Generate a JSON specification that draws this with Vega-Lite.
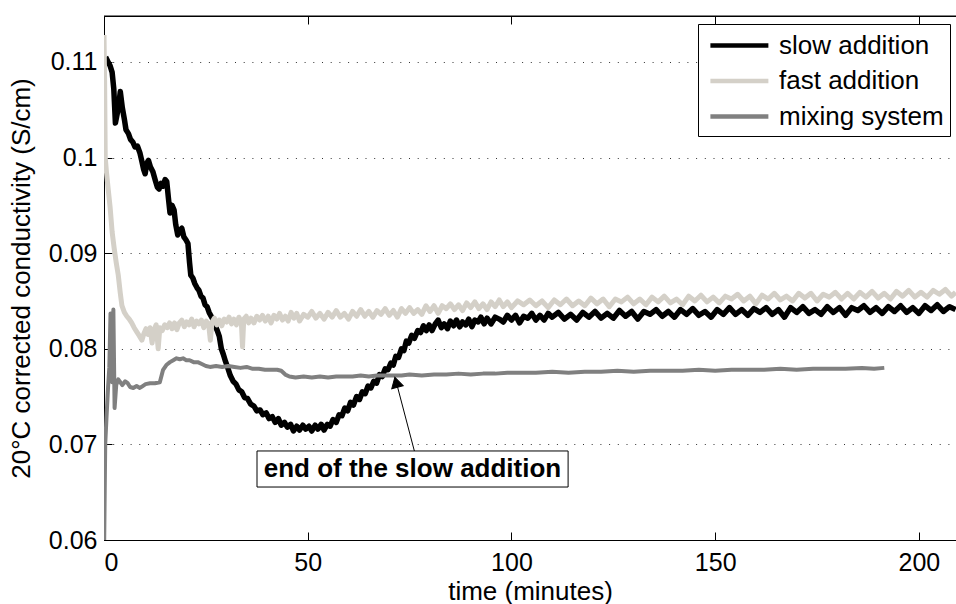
{
  "$schema": "https://vega.github.io/schema/vega-lite/v6.json",
  "autosize": {"type": "none"},
  "padding": {"left": 104, "top": 16, "right": 0, "bottom": 64},
  "width": 852,
  "height": 524,
  "background": "white",
  "config": {
    "font": "Liberation Sans",
    "view": {"stroke": null},
    "axis": {"domainColor": "#000", "tickColor": "#000", "labelColor": "#000", "titleColor": "#000", "labelFont": "Liberation Sans", "titleFont": "Liberation Sans", "titleFontWeight": "normal", "labelFontSize": 25, "titleFontSize": 26, "domainWidth": 1, "tickWidth": 1}
  },
  "data": {"values": [
    {"s":"slow addition","t":0.4,"c":0.1105},{"s":"slow addition","t":1,"c":0.11},{"s":"slow addition","t":1.5,"c":0.1096},{"s":"slow addition","t":2,"c":0.1089},{"s":"slow addition","t":2.4,"c":0.1072},{"s":"slow addition","t":2.8,"c":0.1036},{"s":"slow addition","t":3.3,"c":0.1047},{"s":"slow addition","t":3.7,"c":0.1058},{"s":"slow addition","t":4,"c":0.1069},{"s":"slow addition","t":4.5,"c":0.1052},{"s":"slow addition","t":5,"c":0.104},{"s":"slow addition","t":5.4,"c":0.1029},{"s":"slow addition","t":6,"c":0.1025},{"s":"slow addition","t":6.5,"c":0.1019},{"s":"slow addition","t":7.1,"c":0.1016},{"s":"slow addition","t":7.6,"c":0.1011},{"s":"slow addition","t":8.2,"c":0.1012},{"s":"slow addition","t":8.8,"c":0.1005},{"s":"slow addition","t":9.3,"c":0.0996},{"s":"slow addition","t":9.7,"c":0.0988},{"s":"slow addition","t":10.1,"c":0.0983},{"s":"slow addition","t":10.5,"c":0.0994},{"s":"slow addition","t":10.9,"c":0.0997},{"s":"slow addition","t":11.4,"c":0.099},{"s":"slow addition","t":12,"c":0.0985},{"s":"slow addition","t":12.6,"c":0.0976},{"s":"slow addition","t":13.1,"c":0.0969},{"s":"slow addition","t":13.5,"c":0.0967},{"s":"slow addition","t":14,"c":0.0973},{"s":"slow addition","t":14.5,"c":0.097},{"s":"slow addition","t":15,"c":0.0977},{"s":"slow addition","t":15.4,"c":0.0975},{"s":"slow addition","t":15.8,"c":0.0958},{"s":"slow addition","t":16.2,"c":0.0942},{"s":"slow addition","t":16.7,"c":0.095},{"s":"slow addition","t":17.2,"c":0.0945},{"s":"slow addition","t":17.6,"c":0.093},{"s":"slow addition","t":18.1,"c":0.0919},{"s":"slow addition","t":18.6,"c":0.0924},{"s":"slow addition","t":19.1,"c":0.0926},{"s":"slow addition","t":19.6,"c":0.0917},{"s":"slow addition","t":20.1,"c":0.0914},{"s":"slow addition","t":20.6,"c":0.091},{"s":"slow addition","t":21,"c":0.089},{"s":"slow addition","t":21.3,"c":0.0877},{"s":"slow addition","t":21.8,"c":0.0874},{"s":"slow addition","t":22.3,"c":0.0868},{"s":"slow addition","t":22.8,"c":0.0864},{"s":"slow addition","t":23.3,"c":0.0861},{"s":"slow addition","t":23.8,"c":0.0855},{"s":"slow addition","t":24.3,"c":0.0853},{"s":"slow addition","t":24.8,"c":0.0846},{"s":"slow addition","t":25.3,"c":0.0844},{"s":"slow addition","t":25.8,"c":0.0838},{"s":"slow addition","t":26.3,"c":0.0834},{"s":"slow addition","t":26.8,"c":0.083},{"s":"slow addition","t":27.3,"c":0.0824},{"s":"slow addition","t":27.8,"c":0.0819},{"s":"slow addition","t":28.3,"c":0.0813},{"s":"slow addition","t":28.8,"c":0.08},{"s":"slow addition","t":29.3,"c":0.0794},{"s":"slow addition","t":29.8,"c":0.0787},{"s":"slow addition","t":30.3,"c":0.0781},{"s":"slow addition","t":31,"c":0.0772},{"s":"slow addition","t":31.7,"c":0.0766},{"s":"slow addition","t":32.4,"c":0.0763},{"s":"slow addition","t":33.1,"c":0.0757},{"s":"slow addition","t":33.8,"c":0.0755},{"s":"slow addition","t":34.5,"c":0.0749},{"s":"slow addition","t":35.2,"c":0.0748},{"s":"slow addition","t":36,"c":0.0742},{"s":"slow addition","t":36.8,"c":0.074},{"s":"slow addition","t":37.5,"c":0.0735},{"s":"slow addition","t":38.3,"c":0.0736},{"s":"slow addition","t":39,"c":0.0731},{"s":"slow addition","t":39.8,"c":0.0733},{"s":"slow addition","t":40.5,"c":0.0727},{"s":"slow addition","t":41.3,"c":0.0729},{"s":"slow addition","t":42,"c":0.0723},{"s":"slow addition","t":42.8,"c":0.0727},{"s":"slow addition","t":43.5,"c":0.072},{"s":"slow addition","t":44.3,"c":0.0723},{"s":"slow addition","t":45,"c":0.0718},{"s":"slow addition","t":45.8,"c":0.0721},{"s":"slow addition","t":46.5,"c":0.0714},{"s":"slow addition","t":47.3,"c":0.0719},{"s":"slow addition","t":48,"c":0.0715},{"s":"slow addition","t":48.8,"c":0.072},{"s":"slow addition","t":49.5,"c":0.0716},{"s":"slow addition","t":50.3,"c":0.0719},{"s":"slow addition","t":51,"c":0.0714},{"s":"slow addition","t":51.8,"c":0.072},{"s":"slow addition","t":52.5,"c":0.0716},{"s":"slow addition","t":53.3,"c":0.0721},{"s":"slow addition","t":54,"c":0.0715},{"s":"slow addition","t":54.8,"c":0.0721},{"s":"slow addition","t":55.5,"c":0.0719},{"s":"slow addition","t":56.2,"c":0.0726},{"s":"slow addition","t":57,"c":0.0723},{"s":"slow addition","t":57.7,"c":0.0731},{"s":"slow addition","t":58.4,"c":0.073},{"s":"slow addition","t":59.1,"c":0.0738},{"s":"slow addition","t":59.8,"c":0.0735},{"s":"slow addition","t":60.5,"c":0.0744},{"s":"slow addition","t":61.2,"c":0.0741},{"s":"slow addition","t":62,"c":0.075},{"s":"slow addition","t":62.7,"c":0.0747},{"s":"slow addition","t":63.4,"c":0.0755},{"s":"slow addition","t":64.1,"c":0.0753},{"s":"slow addition","t":64.8,"c":0.0761},{"s":"slow addition","t":65.5,"c":0.0759},{"s":"slow addition","t":66.2,"c":0.0766},{"s":"slow addition","t":66.9,"c":0.0764},{"s":"slow addition","t":67.6,"c":0.0773},{"s":"slow addition","t":68.3,"c":0.0771},{"s":"slow addition","t":69,"c":0.0779},{"s":"slow addition","t":69.7,"c":0.0778},{"s":"slow addition","t":70.4,"c":0.0785},{"s":"slow addition","t":71,"c":0.0783},{"s":"slow addition","t":71.6,"c":0.0792},{"s":"slow addition","t":72.3,"c":0.0791},{"s":"slow addition","t":73,"c":0.08},{"s":"slow addition","t":73.6,"c":0.0798},{"s":"slow addition","t":74.2,"c":0.0808},{"s":"slow addition","t":74.8,"c":0.0806},{"s":"slow addition","t":75.5,"c":0.0814},{"s":"slow addition","t":76.2,"c":0.0811},{"s":"slow addition","t":77,"c":0.0819},{"s":"slow addition","t":77.7,"c":0.0817},{"s":"slow addition","t":78.4,"c":0.0824},{"s":"slow addition","t":79.1,"c":0.0819},{"s":"slow addition","t":79.8,"c":0.0825},{"s":"slow addition","t":80.5,"c":0.0819},{"s":"slow addition","t":81.3,"c":0.0826},{"s":"slow addition","t":82,"c":0.083},{"s":"slow addition","t":82.8,"c":0.0822},{"s":"slow addition","t":83.5,"c":0.0826},{"s":"slow addition","t":84.3,"c":0.0821},{"s":"slow addition","t":85,"c":0.0829},{"s":"slow addition","t":85.8,"c":0.0824},{"s":"slow addition","t":86.5,"c":0.083},{"s":"slow addition","t":87.3,"c":0.0823},{"s":"slow addition","t":88,"c":0.0828},{"s":"slow addition","t":88.8,"c":0.0825},{"s":"slow addition","t":89.5,"c":0.0831},{"s":"slow addition","t":90.3,"c":0.0823},{"s":"slow addition","t":91,"c":0.083},{"s":"slow addition","t":91.8,"c":0.0828},{"s":"slow addition","t":92.5,"c":0.0833},{"s":"slow addition","t":93.3,"c":0.0826},{"s":"slow addition","t":94,"c":0.0832},{"s":"slow addition","t":95,"c":0.0826},{"s":"slow addition","t":96,"c":0.0833},{"s":"slow addition","t":97,"c":0.0831},{"s":"slow addition","t":98,"c":0.0828},{"s":"slow addition","t":99,"c":0.0835},{"s":"slow addition","t":100,"c":0.083},{"s":"slow addition","t":101,"c":0.0835},{"s":"slow addition","t":102,"c":0.0827},{"s":"slow addition","t":103,"c":0.0834},{"s":"slow addition","t":104,"c":0.0832},{"s":"slow addition","t":105,"c":0.0837},{"s":"slow addition","t":106,"c":0.083},{"s":"slow addition","t":107,"c":0.0835},{"s":"slow addition","t":108,"c":0.083},{"s":"slow addition","t":109,"c":0.0837},{"s":"slow addition","t":110,"c":0.0833},{"s":"slow addition","t":111.5,"c":0.0838},{"s":"slow addition","t":113,"c":0.0831},{"s":"slow addition","t":114.5,"c":0.0836},{"s":"slow addition","t":116,"c":0.083},{"s":"slow addition","t":117.5,"c":0.0838},{"s":"slow addition","t":119,"c":0.0833},{"s":"slow addition","t":120.5,"c":0.0839},{"s":"slow addition","t":122,"c":0.0832},{"s":"slow addition","t":123.5,"c":0.0837},{"s":"slow addition","t":125,"c":0.0832},{"s":"slow addition","t":126.5,"c":0.084},{"s":"slow addition","t":128,"c":0.0834},{"s":"slow addition","t":129.5,"c":0.0839},{"s":"slow addition","t":131,"c":0.0831},{"s":"slow addition","t":132.5,"c":0.0839},{"s":"slow addition","t":134,"c":0.0836},{"s":"slow addition","t":135.5,"c":0.0841},{"s":"slow addition","t":137,"c":0.0834},{"s":"slow addition","t":138.5,"c":0.0839},{"s":"slow addition","t":140,"c":0.0833},{"s":"slow addition","t":141.5,"c":0.0841},{"s":"slow addition","t":143,"c":0.0836},{"s":"slow addition","t":144.5,"c":0.0842},{"s":"slow addition","t":146,"c":0.0835},{"s":"slow addition","t":147.5,"c":0.0839},{"s":"slow addition","t":149,"c":0.0833},{"s":"slow addition","t":150.5,"c":0.0841},{"s":"slow addition","t":152,"c":0.0836},{"s":"slow addition","t":153.5,"c":0.0843},{"s":"slow addition","t":155,"c":0.0836},{"s":"slow addition","t":156.5,"c":0.0841},{"s":"slow addition","t":158,"c":0.0835},{"s":"slow addition","t":159.5,"c":0.0842},{"s":"slow addition","t":161,"c":0.0838},{"s":"slow addition","t":162.5,"c":0.0843},{"s":"slow addition","t":164,"c":0.0836},{"s":"slow addition","t":165.5,"c":0.0841},{"s":"slow addition","t":167,"c":0.0833},{"s":"slow addition","t":168.5,"c":0.0843},{"s":"slow addition","t":170,"c":0.0838},{"s":"slow addition","t":171.5,"c":0.0844},{"s":"slow addition","t":173,"c":0.0837},{"s":"slow addition","t":174.5,"c":0.0841},{"s":"slow addition","t":176,"c":0.0836},{"s":"slow addition","t":177.5,"c":0.0844},{"s":"slow addition","t":179,"c":0.0838},{"s":"slow addition","t":180.5,"c":0.0843},{"s":"slow addition","t":182,"c":0.0835},{"s":"slow addition","t":183.5,"c":0.0843},{"s":"slow addition","t":185,"c":0.084},{"s":"slow addition","t":186.5,"c":0.0845},{"s":"slow addition","t":188,"c":0.0838},{"s":"slow addition","t":189.5,"c":0.0843},{"s":"slow addition","t":191,"c":0.0837},{"s":"slow addition","t":192.5,"c":0.0844},{"s":"slow addition","t":194,"c":0.0839},{"s":"slow addition","t":195.5,"c":0.0845},{"s":"slow addition","t":197,"c":0.0838},{"s":"slow addition","t":198.5,"c":0.0843},{"s":"slow addition","t":200,"c":0.0837},{"s":"slow addition","t":201.5,"c":0.0845},{"s":"slow addition","t":203,"c":0.084},{"s":"slow addition","t":204.5,"c":0.0846},{"s":"slow addition","t":206,"c":0.0839},{"s":"slow addition","t":207.5,"c":0.0844},{"s":"slow addition","t":209,"c":0.0841},
    {"s":"fast addition","t":0,"c":0.1128},{"s":"fast addition","t":0.15,"c":0.108},{"s":"fast addition","t":0.3,"c":0.1},{"s":"fast addition","t":0.6,"c":0.0985},{"s":"fast addition","t":1,"c":0.0968},{"s":"fast addition","t":1.5,"c":0.0948},{"s":"fast addition","t":2,"c":0.0922},{"s":"fast addition","t":2.5,"c":0.0905},{"s":"fast addition","t":3,"c":0.089},{"s":"fast addition","t":3.5,"c":0.0877},{"s":"fast addition","t":4,"c":0.0858},{"s":"fast addition","t":4.4,"c":0.0845},{"s":"fast addition","t":5,"c":0.0838},{"s":"fast addition","t":5.6,"c":0.0834},{"s":"fast addition","t":6.2,"c":0.0831},{"s":"fast addition","t":6.8,"c":0.0827},{"s":"fast addition","t":7.4,"c":0.0822},{"s":"fast addition","t":8,"c":0.0818},{"s":"fast addition","t":8.6,"c":0.0814},{"s":"fast addition","t":9.3,"c":0.0809},{"s":"fast addition","t":9.8,"c":0.0816},{"s":"fast addition","t":10.3,"c":0.0821},{"s":"fast addition","t":10.8,"c":0.0815},{"s":"fast addition","t":11.3,"c":0.0822},{"s":"fast addition","t":11.8,"c":0.0806},{"s":"fast addition","t":12.3,"c":0.082},{"s":"fast addition","t":12.8,"c":0.0825},{"s":"fast addition","t":13.3,"c":0.08},{"s":"fast addition","t":13.7,"c":0.0822},{"s":"fast addition","t":14.3,"c":0.0819},{"s":"fast addition","t":14.9,"c":0.0825},{"s":"fast addition","t":15.5,"c":0.0822},{"s":"fast addition","t":16.1,"c":0.0827},{"s":"fast addition","t":16.7,"c":0.0821},{"s":"fast addition","t":17.3,"c":0.0827},{"s":"fast addition","t":17.9,"c":0.082},{"s":"fast addition","t":18.5,"c":0.0827},{"s":"fast addition","t":19.1,"c":0.083},{"s":"fast addition","t":19.7,"c":0.0823},{"s":"fast addition","t":20.3,"c":0.0828},{"s":"fast addition","t":20.9,"c":0.0825},{"s":"fast addition","t":21.5,"c":0.0831},{"s":"fast addition","t":22.1,"c":0.0823},{"s":"fast addition","t":22.7,"c":0.0829},{"s":"fast addition","t":23.3,"c":0.0826},{"s":"fast addition","t":23.9,"c":0.083},{"s":"fast addition","t":24.5,"c":0.0822},{"s":"fast addition","t":25.1,"c":0.0829},{"s":"fast addition","t":25.7,"c":0.0825},{"s":"fast addition","t":26.1,"c":0.0809},{"s":"fast addition","t":26.5,"c":0.0828},{"s":"fast addition","t":27.1,"c":0.0832},{"s":"fast addition","t":27.7,"c":0.0825},{"s":"fast addition","t":28.3,"c":0.083},{"s":"fast addition","t":28.9,"c":0.0824},{"s":"fast addition","t":29.5,"c":0.0831},{"s":"fast addition","t":30.1,"c":0.0828},{"s":"fast addition","t":30.7,"c":0.0833},{"s":"fast addition","t":31.3,"c":0.0826},{"s":"fast addition","t":31.9,"c":0.0831},{"s":"fast addition","t":32.5,"c":0.0825},{"s":"fast addition","t":33.1,"c":0.0833},{"s":"fast addition","t":33.7,"c":0.0828},{"s":"fast addition","t":34,"c":0.0802},{"s":"fast addition","t":34.3,"c":0.0831},{"s":"fast addition","t":34.9,"c":0.0834},{"s":"fast addition","t":35.5,"c":0.0827},{"s":"fast addition","t":36.1,"c":0.0832},{"s":"fast addition","t":36.8,"c":0.0827},{"s":"fast addition","t":37.5,"c":0.0834},{"s":"fast addition","t":38.2,"c":0.083},{"s":"fast addition","t":38.9,"c":0.0835},{"s":"fast addition","t":39.6,"c":0.0829},{"s":"fast addition","t":40.3,"c":0.0834},{"s":"fast addition","t":41,"c":0.0827},{"s":"fast addition","t":41.7,"c":0.0835},{"s":"fast addition","t":42.4,"c":0.0831},{"s":"fast addition","t":43.1,"c":0.0837},{"s":"fast addition","t":43.8,"c":0.083},{"s":"fast addition","t":44.5,"c":0.0834},{"s":"fast addition","t":45.2,"c":0.0829},{"s":"fast addition","t":45.9,"c":0.0838},{"s":"fast addition","t":46.6,"c":0.0832},{"s":"fast addition","t":47.3,"c":0.0837},{"s":"fast addition","t":48,"c":0.0829},{"s":"fast addition","t":49,"c":0.0836},{"s":"fast addition","t":50,"c":0.0833},{"s":"fast addition","t":51,"c":0.0839},{"s":"fast addition","t":52,"c":0.0832},{"s":"fast addition","t":53,"c":0.0837},{"s":"fast addition","t":54,"c":0.0831},{"s":"fast addition","t":55,"c":0.0838},{"s":"fast addition","t":56,"c":0.0833},{"s":"fast addition","t":57,"c":0.084},{"s":"fast addition","t":58,"c":0.0833},{"s":"fast addition","t":59,"c":0.0837},{"s":"fast addition","t":60,"c":0.0831},{"s":"fast addition","t":61,"c":0.0839},{"s":"fast addition","t":62,"c":0.0834},{"s":"fast addition","t":63,"c":0.0841},{"s":"fast addition","t":64,"c":0.0834},{"s":"fast addition","t":65,"c":0.0839},{"s":"fast addition","t":66,"c":0.0833},{"s":"fast addition","t":67,"c":0.084},{"s":"fast addition","t":68,"c":0.0836},{"s":"fast addition","t":69,"c":0.0842},{"s":"fast addition","t":70,"c":0.0835},{"s":"fast addition","t":71,"c":0.084},{"s":"fast addition","t":72,"c":0.0833},{"s":"fast addition","t":73,"c":0.0842},{"s":"fast addition","t":74,"c":0.0837},{"s":"fast addition","t":75,"c":0.0843},{"s":"fast addition","t":76,"c":0.0837},{"s":"fast addition","t":77,"c":0.0841},{"s":"fast addition","t":78,"c":0.0836},{"s":"fast addition","t":79,"c":0.0845},{"s":"fast addition","t":80,"c":0.0839},{"s":"fast addition","t":81,"c":0.0845},{"s":"fast addition","t":82,"c":0.0837},{"s":"fast addition","t":83,"c":0.0845},{"s":"fast addition","t":84,"c":0.0842},{"s":"fast addition","t":85,"c":0.0847},{"s":"fast addition","t":86,"c":0.0841},{"s":"fast addition","t":87,"c":0.0846},{"s":"fast addition","t":88,"c":0.084},{"s":"fast addition","t":89,"c":0.0848},{"s":"fast addition","t":90,"c":0.0843},{"s":"fast addition","t":91,"c":0.0849},{"s":"fast addition","t":92,"c":0.0842},{"s":"fast addition","t":93,"c":0.0847},{"s":"fast addition","t":94,"c":0.0841},{"s":"fast addition","t":95,"c":0.0849},{"s":"fast addition","t":96,"c":0.0844},{"s":"fast addition","t":97,"c":0.0851},{"s":"fast addition","t":98,"c":0.0844},{"s":"fast addition","t":99,"c":0.0849},{"s":"fast addition","t":100,"c":0.0843},{"s":"fast addition","t":101.5,"c":0.085},{"s":"fast addition","t":103,"c":0.0846},{"s":"fast addition","t":104.5,"c":0.0851},{"s":"fast addition","t":106,"c":0.0845},{"s":"fast addition","t":107.5,"c":0.085},{"s":"fast addition","t":109,"c":0.0843},{"s":"fast addition","t":110.5,"c":0.0851},{"s":"fast addition","t":112,"c":0.0846},{"s":"fast addition","t":113.5,"c":0.0852},{"s":"fast addition","t":115,"c":0.0845},{"s":"fast addition","t":116.5,"c":0.085},{"s":"fast addition","t":118,"c":0.0845},{"s":"fast addition","t":119.5,"c":0.0853},{"s":"fast addition","t":121,"c":0.0847},{"s":"fast addition","t":122.5,"c":0.0852},{"s":"fast addition","t":124,"c":0.0844},{"s":"fast addition","t":125.5,"c":0.0852},{"s":"fast addition","t":127,"c":0.0849},{"s":"fast addition","t":128.5,"c":0.0854},{"s":"fast addition","t":130,"c":0.0847},{"s":"fast addition","t":131.5,"c":0.0852},{"s":"fast addition","t":133,"c":0.0846},{"s":"fast addition","t":134.5,"c":0.0854},{"s":"fast addition","t":136,"c":0.0849},{"s":"fast addition","t":137.5,"c":0.0855},{"s":"fast addition","t":139,"c":0.0848},{"s":"fast addition","t":140.5,"c":0.0852},{"s":"fast addition","t":142,"c":0.0846},{"s":"fast addition","t":143.5,"c":0.0855},{"s":"fast addition","t":145,"c":0.085},{"s":"fast addition","t":146.5,"c":0.0856},{"s":"fast addition","t":148,"c":0.0849},{"s":"fast addition","t":149.5,"c":0.0854},{"s":"fast addition","t":151,"c":0.0848},{"s":"fast addition","t":152.5,"c":0.0855},{"s":"fast addition","t":154,"c":0.0852},{"s":"fast addition","t":155.5,"c":0.0857},{"s":"fast addition","t":157,"c":0.085},{"s":"fast addition","t":158.5,"c":0.0855},{"s":"fast addition","t":160,"c":0.0847},{"s":"fast addition","t":161.5,"c":0.0856},{"s":"fast addition","t":163,"c":0.0852},{"s":"fast addition","t":164.5,"c":0.0858},{"s":"fast addition","t":166,"c":0.0851},{"s":"fast addition","t":167.5,"c":0.0855},{"s":"fast addition","t":169,"c":0.085},{"s":"fast addition","t":170.5,"c":0.0858},{"s":"fast addition","t":172,"c":0.0853},{"s":"fast addition","t":173.5,"c":0.0858},{"s":"fast addition","t":175,"c":0.085},{"s":"fast addition","t":176.5,"c":0.0857},{"s":"fast addition","t":178,"c":0.0854},{"s":"fast addition","t":179.5,"c":0.0859},{"s":"fast addition","t":181,"c":0.0852},{"s":"fast addition","t":182.5,"c":0.0858},{"s":"fast addition","t":184,"c":0.0852},{"s":"fast addition","t":185.5,"c":0.0859},{"s":"fast addition","t":187,"c":0.0854},{"s":"fast addition","t":188.5,"c":0.086},{"s":"fast addition","t":190,"c":0.0853},{"s":"fast addition","t":191.5,"c":0.0858},{"s":"fast addition","t":193,"c":0.0852},{"s":"fast addition","t":194.5,"c":0.086},{"s":"fast addition","t":196,"c":0.0855},{"s":"fast addition","t":197.5,"c":0.0861},{"s":"fast addition","t":199,"c":0.0854},{"s":"fast addition","t":200.5,"c":0.0859},{"s":"fast addition","t":202,"c":0.0854},{"s":"fast addition","t":203.5,"c":0.0861},{"s":"fast addition","t":205,"c":0.0857},{"s":"fast addition","t":206.5,"c":0.0862},{"s":"fast addition","t":208,"c":0.0855},{"s":"fast addition","t":209,"c":0.0859},
    {"s":"mixing system","t":0.05,"c":0.06},{"s":"mixing system","t":0.3,"c":0.07},{"s":"mixing system","t":0.6,"c":0.0727},{"s":"mixing system","t":1,"c":0.076},{"s":"mixing system","t":1.3,"c":0.078},{"s":"mixing system","t":1.6,"c":0.0837},{"s":"mixing system","t":2,"c":0.0765},{"s":"mixing system","t":2.3,"c":0.0841},{"s":"mixing system","t":2.6,"c":0.0738},{"s":"mixing system","t":3,"c":0.0762},{"s":"mixing system","t":3.5,"c":0.0768},{"s":"mixing system","t":4,"c":0.0765},{"s":"mixing system","t":4.5,"c":0.0762},{"s":"mixing system","t":5.2,"c":0.0766},{"s":"mixing system","t":5.8,"c":0.0764},{"s":"mixing system","t":6.4,"c":0.076},{"s":"mixing system","t":7.2,"c":0.0759},{"s":"mixing system","t":8,"c":0.0761},{"s":"mixing system","t":8.8,"c":0.0759},{"s":"mixing system","t":9.5,"c":0.0761},{"s":"mixing system","t":10.2,"c":0.0763},{"s":"mixing system","t":11.3,"c":0.0764},{"s":"mixing system","t":12.5,"c":0.0764},{"s":"mixing system","t":13.7,"c":0.0765},{"s":"mixing system","t":14.5,"c":0.0778},{"s":"mixing system","t":15.3,"c":0.0783},{"s":"mixing system","t":16.2,"c":0.0786},{"s":"mixing system","t":17,"c":0.0788},{"s":"mixing system","t":17.8,"c":0.079},{"s":"mixing system","t":18.6,"c":0.0789},{"s":"mixing system","t":19.4,"c":0.079},{"s":"mixing system","t":20.2,"c":0.0788},{"s":"mixing system","t":21,"c":0.0788},{"s":"mixing system","t":22,"c":0.0786},{"s":"mixing system","t":23,"c":0.0786},{"s":"mixing system","t":24,"c":0.0784},{"s":"mixing system","t":25,"c":0.0782},{"s":"mixing system","t":26,"c":0.0781},{"s":"mixing system","t":27.5,"c":0.0782},{"s":"mixing system","t":29,"c":0.0781},{"s":"mixing system","t":30.5,"c":0.0782},{"s":"mixing system","t":32,"c":0.0781},{"s":"mixing system","t":33.5,"c":0.078},{"s":"mixing system","t":35,"c":0.0781},{"s":"mixing system","t":36.5,"c":0.0779},{"s":"mixing system","t":38,"c":0.0779},{"s":"mixing system","t":39.5,"c":0.0778},{"s":"mixing system","t":41,"c":0.0778},{"s":"mixing system","t":42.5,"c":0.0778},{"s":"mixing system","t":43.5,"c":0.0777},{"s":"mixing system","t":44.5,"c":0.0773},{"s":"mixing system","t":45.5,"c":0.0771},{"s":"mixing system","t":47,"c":0.077},{"s":"mixing system","t":49,"c":0.0771},{"s":"mixing system","t":51,"c":0.077},{"s":"mixing system","t":53,"c":0.0771},{"s":"mixing system","t":55,"c":0.077},{"s":"mixing system","t":57,"c":0.0771},{"s":"mixing system","t":59,"c":0.0771},{"s":"mixing system","t":61,"c":0.0771},{"s":"mixing system","t":63,"c":0.0772},{"s":"mixing system","t":65,"c":0.0771},{"s":"mixing system","t":67,"c":0.0772},{"s":"mixing system","t":69,"c":0.0772},{"s":"mixing system","t":71,"c":0.0772},{"s":"mixing system","t":73,"c":0.0772},{"s":"mixing system","t":75,"c":0.0773},{"s":"mixing system","t":78,"c":0.0772},{"s":"mixing system","t":81,"c":0.0773},{"s":"mixing system","t":84,"c":0.0773},{"s":"mixing system","t":87,"c":0.0774},{"s":"mixing system","t":90,"c":0.0773},{"s":"mixing system","t":93,"c":0.0774},{"s":"mixing system","t":96,"c":0.0774},{"s":"mixing system","t":99,"c":0.0775},{"s":"mixing system","t":102,"c":0.0775},{"s":"mixing system","t":106,"c":0.0775},{"s":"mixing system","t":110,"c":0.0776},{"s":"mixing system","t":114,"c":0.0775},{"s":"mixing system","t":118,"c":0.0776},{"s":"mixing system","t":122,"c":0.0776},{"s":"mixing system","t":126,"c":0.0777},{"s":"mixing system","t":130,"c":0.0776},{"s":"mixing system","t":134,"c":0.0777},{"s":"mixing system","t":138,"c":0.0777},{"s":"mixing system","t":142,"c":0.0777},{"s":"mixing system","t":146,"c":0.0778},{"s":"mixing system","t":150,"c":0.0777},{"s":"mixing system","t":154,"c":0.0778},{"s":"mixing system","t":158,"c":0.0778},{"s":"mixing system","t":162,"c":0.0778},{"s":"mixing system","t":166,"c":0.0779},{"s":"mixing system","t":170,"c":0.0778},{"s":"mixing system","t":174,"c":0.0779},{"s":"mixing system","t":178,"c":0.0779},{"s":"mixing system","t":182,"c":0.0779},{"s":"mixing system","t":186,"c":0.078},{"s":"mixing system","t":189,"c":0.0779},{"s":"mixing system","t":191.5,"c":0.078}
  ]},
  "resolve": {"axis": {"x": "independent"}},
  "layer": [
    {
      "transform": [{"filter": "datum.s === 'slow addition'"}],
      "mark": {"type": "line", "strokeWidth": 5.5, "clip": true, "strokeJoin": "round"},
      "encoding": {
        "x": {"field": "t", "type": "quantitative", "scale": {"domain": [0, 209.1], "nice": false, "zero": false},
          "axis": {"orient": "bottom", "title": "time (minutes)", "values": [0, 50, 100, 150, 200], "tickSize": -8, "labelPadding": 18, "grid": false, "titlePadding": 3}},
        "y": {"field": "c", "type": "quantitative", "scale": {"domain": [0.06, 0.1148], "nice": false, "zero": false},
          "axis": {"title": "20°C corrected conductivity (S/cm)", "values": [0.06, 0.07, 0.08, 0.09, 0.1, 0.11], "format": "~g", "tickSize": -8, "labelPadding": 15, "grid": true, "gridColor": "#000", "gridDash": [1, 7.7], "gridOpacity": 0.8, "gridWidth": 1, "titlePadding": 14}},
        "color": {"field": "s", "type": "nominal", "sort": null,
          "scale": {"domain": ["slow addition", "fast addition", "mixing system"], "range": ["#000000", "#d4d0c8", "#808080"]},
          "legend": {"title": null, "orient": "none", "legendX": 594, "legendY": 8, "symbolType": "M-0.7,0L3.76,0", "symbolSize": 676, "symbolStrokeWidth": 4.5, "labelFontSize": 26, "labelFont": "Liberation Sans", "labelColor": "#000", "labelOffset": 44, "padding": 6, "strokeColor": "#000", "fillColor": "#fff", "rowPadding": 6.5, "labelLimit": 400}}
      }
    },
    {
      "transform": [{"filter": "datum.s === 'fast addition'"}],
      "mark": {"type": "line", "strokeWidth": 5, "clip": true, "strokeJoin": "round"},
      "encoding": {
        "x": {"field": "t", "type": "quantitative", "axis": {"orient": "top", "title": null, "labels": false, "domain": true, "ticks": true, "values": [0, 50, 100, 150, 200], "tickSize": -8, "grid": false}},
        "y": {"field": "c", "type": "quantitative"},
        "color": {"field": "s", "type": "nominal"}
      }
    },
    {
      "transform": [{"filter": "datum.s === 'mixing system'"}],
      "mark": {"type": "line", "strokeWidth": 4, "clip": true, "strokeJoin": "round"},
      "encoding": {
        "x": {"field": "t", "type": "quantitative", "axis": null},
        "y": {"field": "c", "type": "quantitative"},
        "color": {"field": "s", "type": "nominal"}
      }
    },
    {
      "data": {"values": [{}]},
      "mark": {"type": "rule", "stroke": "#000", "strokeWidth": 1},
      "encoding": {
        "x": {"datum": 0, "type": "quantitative", "axis": null},
        "x2": {"datum": 209.1},
        "y": {"datum": 0.1148, "type": "quantitative"}
      }
    },
    {
      "data": {"values": [{}]},
      "mark": {"type": "rule", "stroke": "#000", "strokeWidth": 1},
      "encoding": {
        "x": {"datum": 76.3, "type": "quantitative", "axis": null},
        "y": {"datum": 0.0691, "type": "quantitative"},
        "x2": {"datum": 71.8},
        "y2": {"datum": 0.0764}
      }
    },
    {
      "data": {"values": [{}]},
      "mark": {"type": "point", "shape": "triangle-up", "filled": true, "fill": "#000", "stroke": "#000", "strokeWidth": 1, "size": 140, "angle": 345, "opacity": 1},
      "encoding": {
        "x": {"datum": 71.7, "type": "quantitative", "axis": null},
        "y": {"datum": 0.0765, "type": "quantitative"}
      }
    },
    {
      "data": {"values": [{}]},
      "mark": {"type": "rect", "fill": "#fff", "stroke": "#000", "strokeWidth": 1},
      "encoding": {
        "x": {"datum": 37.55, "type": "quantitative", "axis": null},
        "x2": {"datum": 113.9},
        "y": {"datum": 0.06554, "type": "quantitative"},
        "y2": {"datum": 0.06931}
      }
    },
    {
      "data": {"values": [{}]},
      "mark": {"type": "text", "text": "end of the slow addition", "font": "Liberation Sans", "fontWeight": "bold", "fontSize": 26, "align": "center", "baseline": "middle", "color": "#000"},
      "encoding": {
        "x": {"datum": 75.7, "type": "quantitative", "axis": null},
        "y": {"datum": 0.06743, "type": "quantitative"}
      }
    }
  ]
}
